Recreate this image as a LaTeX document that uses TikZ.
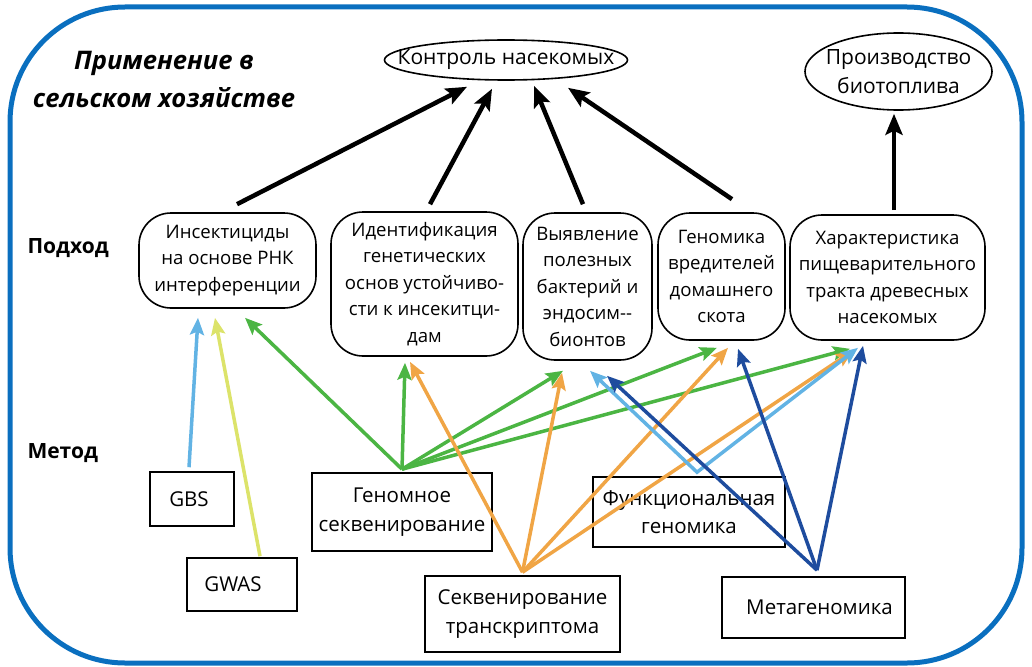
\documentclass[tikz,border=0pt]{standalone}
\usepackage{fontspec}
\setmainfont{Open Sans}
\usetikzlibrary{arrows.meta,calc,shapes.geometric}

\definecolor{frameblue}{HTML}{0A6FBF}
\definecolor{agreen}{HTML}{4BB543}
\definecolor{aorange}{HTML}{F0A545}
\definecolor{alblue}{HTML}{62B3E4}
\definecolor{ayellow}{HTML}{DCE36A}
\definecolor{adblue}{HTML}{1E4C9E}

\begin{document}
\begin{tikzpicture}[x=1pt,y=-1pt,
  approach/.style={draw, line width=1.6pt, rounded corners=32pt, align=center,
    font=\fontsize{18.6}{26.5}\selectfont, inner sep=0pt},
  method/.style={draw, line width=1.6pt, align=center,
    font=\fontsize{20.5}{28.5}\selectfont, inner sep=0pt},
  goal/.style={draw, ellipse, line width=1.6pt, align=center, inner xsep=-30pt,
    inner ysep=-10pt, font=\fontsize{21}{29}\selectfont},
  rowlabel/.style={anchor=west, font=\fontsize{21}{24}\selectfont\bfseries},
  blk/.style={line width=4.5pt, -{Stealth[length=21pt,width=17pt,inset=4pt]}},
  col/.style={line width=3.5pt, -{Stealth[length=17pt,width=14pt,inset=3pt]}},
]
\useasboundingbox (0,0) rectangle (1032,666);

% outer frame
\draw[frameblue, line width=5pt, rounded corners=115pt] (10,7) rectangle (1022,663);

% heading and row labels
\node[align=center, font=\fontsize{25.6}{38}\selectfont\bfseries\itshape] (title) at (164,79)
  {Применение в\\сельском хозяйстве};
\node[rowlabel] (lblapp) at (24,248) {Подход};
\node[rowlabel] (lblmet) at (24,453) {Метод};

% goals
\node[goal, minimum width=243pt, minimum height=40pt] (ctl) at (506,60) {Контроль насекомых};
\node[goal, minimum width=187pt, minimum height=77pt] (bio) at (898.5,71.5) {Производство\\биотоплива};

% approaches
\node[approach, minimum width=177pt, minimum height=95pt] (ins) at (227.5,260.5)
  {Инсектициды\\на основе РНК\\интерференции};
\node[approach, minimum width=187pt, minimum height=144pt] (ident) at (424.5,284)
  {Идентификация\\генетических\\основ устойчиво-\\сти к инсекитци-\\дам};
\node[approach, minimum width=129pt, minimum height=147pt] (vyav) at (587.5,286.5)
  {Выявление\\полезных\\бактерий и\\эндосим-{}-\\бионтов};
\node[approach, minimum width=127pt, minimum height=127pt] (gvred) at (721.5,276.5)
  {Геномика\\вредителей\\домашнего\\скота};
\node[approach, minimum width=195pt, minimum height=125pt] (har) at (887.5,277.5)
  {Характеристика\\пищеварительного\\тракта древесных\\насекомых};

% methods
\node[method, minimum width=84pt, minimum height=54pt] (gbs) at (192,499) {\hspace*{-6pt}GBS};
\node[method, minimum width=110pt, minimum height=53pt] (gwas) at (242,584.5) {\hspace*{-18pt}GWAS};
\node[method, minimum width=180pt, minimum height=78pt] (gen) at (402,512) {Геномное\\секвенирование};
\node[method, minimum width=192pt, minimum height=70pt] (func) at (689,512) {Функциональная\\геномика};
\node[method, minimum width=195pt, minimum height=76pt] (trans) at (522.5,614)
  {Секвенирование\\транскриптома};
\node[method, minimum width=183pt, minimum height=61pt] (meta) at (813.5,607.5) {\hspace*{12pt}Метагеномика};

% approaches lead to applications
\draw[blk] ($(ins.north)+(9.5,-8)$)   -- ($(ctl.south)+(-39,6)$);
\draw[blk] ($(ident.north)+(5.5,-7)$) -- ($(ctl.south)+(-14,8)$);
\draw[blk] ($(vyav.north)+(-4.5,-8)$) -- ($(ctl.south)+(28,5)$);
\draw[blk] ($(gvred.north)+(10.5,-13)$) -- ($(ctl.south)+(62,7)$);
\draw[blk] ($(har.north)+(6.5,-4)$)   -- ($(bio.south)+(-4.5,3)$);

% GBS and GWAS
\draw[col, alblue]  ($(gbs.north)+(-3,-4)$)  -- ($(ins.south)+(-29.5,9)$);
\draw[col, ayellow] ($(gwas.north)+(18,-1)$) -- ($(ins.south)+(-12.5,9)$);

% genome sequencing
\coordinate (genout) at ($(gen.north)+(0,-3)$);
\draw[col, agreen] (genout) -- ($(ins.south)+(17.5,9)$);
\draw[col, agreen] (genout) -- ($(ident.south)+(-19.5,6)$);
\draw[col, agreen] (genout) -- ($(vyav.south)+(-24.5,10)$);
\draw[col, agreen] (genout) -- ($(gvred.south)+(-4.5,7)$);
\draw[col, agreen] (genout) -- ($(har.south)+(-37.5,8)$);

% transcriptome sequencing
\coordinate (transout) at ($(trans.north)+(0,-3)$);
\draw[col, aorange] (transout) -- ($(ident.south)+(-14.5,5)$);
\draw[col, aorange] (transout) -- ($(vyav.south)+(-25.5,12)$);
\draw[col, aorange] (transout) -- ($(gvred.south)+(6.5,7)$);
\draw[col, aorange] (transout) -- ($(har.south)+(-34.5,10)$);

% functional genomics
\coordinate (funcout) at ($(func.north)+(8,-4)$);
\draw[line width=3.5pt, alblue, {Stealth[length=17pt,width=14pt,inset=3pt]}-{Stealth[length=17pt,width=14pt,inset=3pt]}]
  ($(vyav.south)+(2.5,10)$) -- (funcout) -- ($(har.south)+(-29.5,7)$);

% metagenomics
\coordinate (metaout) at ($(meta.north)+(3.5,-6)$);
\draw[col, adblue] (metaout) -- ($(vyav.south)+(19.5,15)$);
\draw[col, adblue] (metaout) -- ($(gvred.south)+(16.5,8)$);
\draw[col, adblue] (metaout) -- ($(har.south)+(-24.5,5)$);
\end{tikzpicture}
\end{document}
